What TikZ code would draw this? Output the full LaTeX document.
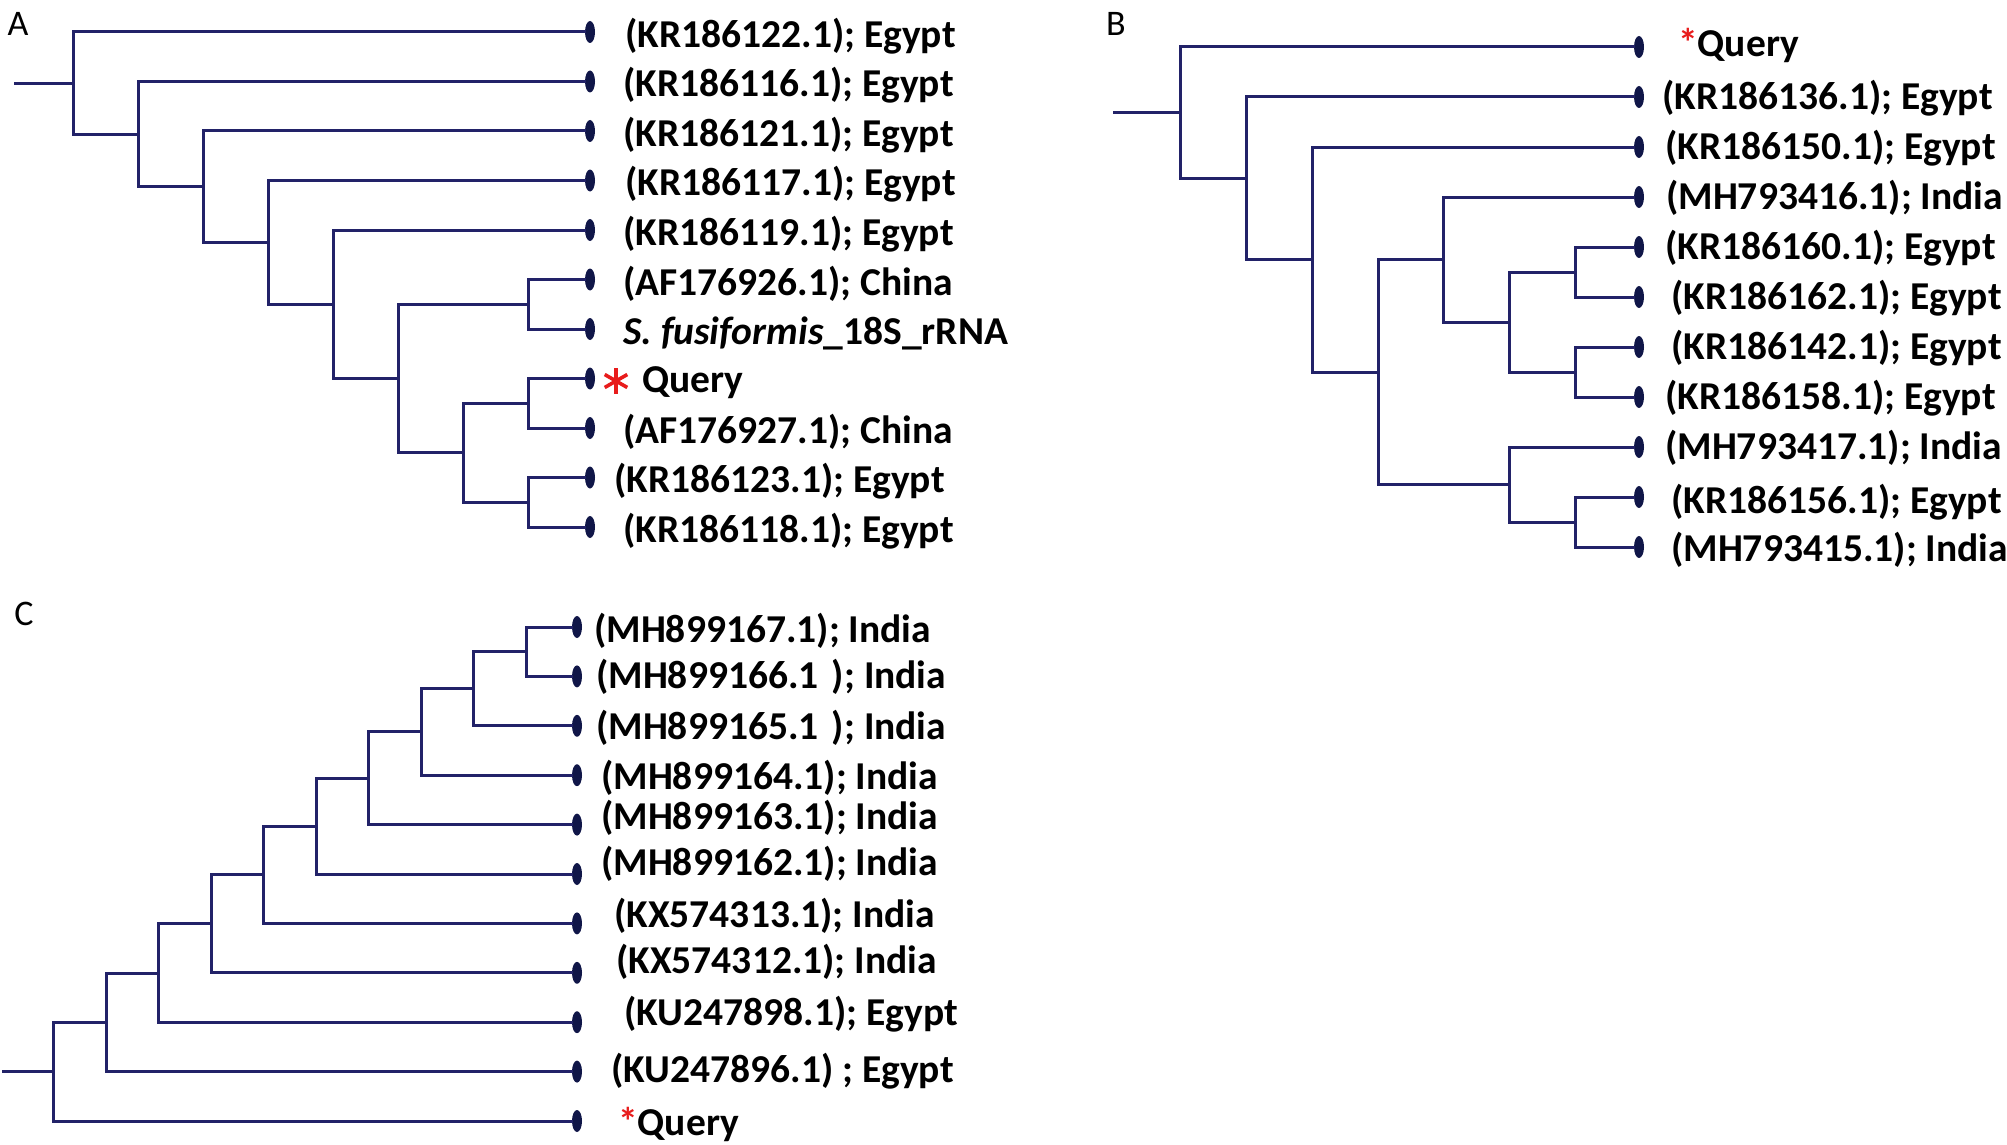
\documentclass[tikz,border=0pt]{standalone}
\usepackage{fontspec}
\setmainfont{Carlito}
\usetikzlibrary{shapes.geometric}
\definecolor{br}{RGB}{34,34,104}
\definecolor{dotc}{RGB}{16,22,72}
\definecolor{qred}{RGB}{232,28,28}
\begin{document}
\begin{tikzpicture}[x=1pt,y=-1pt,
  branch/.style={draw=br, line width=3pt, line cap=rect},
  leafdot/.style={ellipse, fill=dotc, inner sep=0pt, minimum width=10pt, minimum height=22pt},
  lab/.style={anchor=west, inner sep=0pt, font=\fontsize{39.5}{46}\selectfont\bfseries},
  panel/.style={inner sep=0pt, font=\fontsize{36}{42}\selectfont},
  astar/.style={draw=qred, line width=3.6pt}
]
\path[use as bounding box, fill=white] (0,0) rectangle (2007,1145);

%================ Panel A ================
\node[panel] (Alab) at (18,24) {A};
\coordinate (As) at (15,83.05);
\coordinate (Ar) at (73,83.05);
\coordinate (A2) at (138,134.1);
\coordinate (A3) at (203,186.69);
\coordinate (A4) at (268,242.38);
\coordinate (A5) at (333,304.25);
\coordinate (A6) at (398,378.5);
\coordinate (A7) at (463,452.75);
\coordinate (Ac) at (528,304.25);
\coordinate (Aq) at (528,403.25);
\coordinate (Ae) at (528,502.25);
\foreach \i/\y in {0/32,1/81.5,2/131,3/180.5,4/230,5/279.5,6/329,7/378.5,8/428,9/477.5,10/527}
  \node[leafdot] (Al\i) at (590,\y) {};

\node[lab] (At0) at (625,36) {(KR186122.1); Egypt};
\node[lab] (At1) at (623,85.5) {(KR186116.1); Egypt};
\node[lab] (At2) at (623,135) {(KR186121.1); Egypt};
\node[lab] (At3) at (625,184.5) {(KR186117.1); Egypt};
\node[lab] (At4) at (623,234) {(KR186119.1); Egypt};
\node[lab] (At5) at (623,283.5) {(AF176926.1); China};
\node[lab] (At6) at (623,333) {\textit{S. fusiformis}\_18S\_rRNA};
\node[lab] (At7) at (642,382.5) {Query};
\node[lab] (At8) at (623,432) {(AF176927.1); China};
\node[lab] (At9) at (614,481.5) {(KR186123.1); Egypt};
\node[lab] (At10) at (623,531) {(KR186118.1); Egypt};
% red asterisk before Query
\draw[astar] (616,368) -- (616,394);
\draw[astar] (604.7,374.5) -- (627.3,387.5);
\draw[astar] (604.7,387.5) -- (627.3,374.5);

\draw[branch] (As) -- (Ar);
\draw[branch] (Ar) |- (Al0);  \draw[branch] (Ar) |- (A2);
\draw[branch] (A2) |- (Al1);  \draw[branch] (A2) |- (A3);
\draw[branch] (A3) |- (Al2);  \draw[branch] (A3) |- (A4);
\draw[branch] (A4) |- (Al3);  \draw[branch] (A4) |- (A5);
\draw[branch] (A5) |- (Al4);  \draw[branch] (A5) |- (A6);
\draw[branch] (A6) |- (Ac);   \draw[branch] (A6) |- (A7);
\draw[branch] (Ac) |- (Al5);  \draw[branch] (Ac) |- (Al6);
\draw[branch] (A7) |- (Aq);   \draw[branch] (A7) |- (Ae);
\draw[branch] (Aq) |- (Al7);  \draw[branch] (Aq) |- (Al8);
\draw[branch] (Ae) |- (Al9);  \draw[branch] (Ae) |- (Al10);

%================ Panel B ================
\node[panel] (Blab) at (1116,24) {B};
\coordinate (Bs) at (1114,112.6);
\coordinate (Br) at (1180,112.6);
\coordinate (B2) at (1246,178.25);
\coordinate (B3) at (1312,259.5);
\coordinate (B4) at (1378,372);
\coordinate (B5) at (1443,259.5);
\coordinate (B6) at (1509,322);
\coordinate (B8) at (1509,484.5);
\coordinate (Ba) at (1575,272);
\coordinate (Bb) at (1575,372);
\coordinate (Bc) at (1575,522);
\foreach \i/\y in {0/47,1/97,2/147,3/197,4/247,5/297,6/347,7/397,8/447,9/497,10/547}
  \node[leafdot] (Bl\i) at (1639,\y) {};

\node[lab] (Bt0) at (1678,45) {{\color{qred}*}Query};
\node[lab] (Bt1) at (1662,98) {(KR186136.1); Egypt};
\node[lab] (Bt2) at (1665,148) {(KR186150.1); Egypt};
\node[lab] (Bt3) at (1666,198) {(MH793416.1); India};
\node[lab] (Bt4) at (1665,248) {(KR186160.1); Egypt};
\node[lab] (Bt5) at (1671,298) {(KR186162.1); Egypt};
\node[lab] (Bt6) at (1671,348) {(KR186142.1); Egypt};
\node[lab] (Bt7) at (1665,398) {(KR186158.1); Egypt};
\node[lab] (Bt8) at (1665,448) {(MH793417.1); India};
\node[lab] (Bt9) at (1671,502) {(KR186156.1); Egypt};
\node[lab] (Bt10) at (1671,550) {(MH793415.1); India};

\draw[branch] (Bs) -- (Br);
\draw[branch] (Br) |- (Bl0);  \draw[branch] (Br) |- (B2);
\draw[branch] (B2) |- (Bl1);  \draw[branch] (B2) |- (B3);
\draw[branch] (B3) |- (Bl2);  \draw[branch] (B3) |- (B4);
\draw[branch] (B4) |- (B5);   \draw[branch] (B4) |- (B8);
\draw[branch] (B5) |- (Bl3);  \draw[branch] (B5) |- (B6);
\draw[branch] (B6) |- (Ba);   \draw[branch] (B6) |- (Bb);
\draw[branch] (Ba) |- (Bl4);  \draw[branch] (Ba) |- (Bl5);
\draw[branch] (Bb) |- (Bl6);  \draw[branch] (Bb) |- (Bl7);
\draw[branch] (B8) |- (Bl8);  \draw[branch] (B8) |- (Bc);
\draw[branch] (Bc) |- (Bl9);  \draw[branch] (Bc) |- (Bl10);

%================ Panel C ================
\node[panel] (Clab) at (24,614) {C};
\coordinate (Cs) at (3,1071.65);
\coordinate (Cr) at (53,1071.65);
\coordinate (C2) at (106,1022.3);
\coordinate (C3) at (158,972.99);
\coordinate (C4) at (211,923.79);
\coordinate (C5) at (263,874.77);
\coordinate (C6) at (316,826.14);
\coordinate (C7) at (368,778.29);
\coordinate (C8) at (421,731.98);
\coordinate (C9) at (473,688.75);
\coordinate (C10) at (526,651.7);
\foreach \i/\y in {0/627,1/676.4,2/725.8,3/775.2,4/824.6,5/874,6/923.4,7/972.8,8/1022.2,9/1071.6,10/1121}
  \node[leafdot] (Cl\i) at (577,\y) {};

\node[lab] (Ct0) at (594,631) {(MH899167.1); India};
\node[lab] (Ct1) at (596,676.4) {(MH899166.1\,\,); India};
\node[lab] (Ct2) at (596,727.8) {(MH899165.1\,\,); India};
\node[lab] (Ct3) at (601,778.2) {(MH899164.1); India};
\node[lab] (Ct4) at (601,817.6) {(MH899163.1); India};
\node[lab] (Ct5) at (601,864) {(MH899162.1); India};
\node[lab] (Ct6) at (614,915.4) {(KX574313.1); India};
\node[lab] (Ct7) at (616,961.8) {(KX574312.1); India};
\node[lab] (Ct8) at (624,1014.2) {(KU247898.1); Egypt};
\node[lab] (Ct9) at (611,1071.6) {(KU247896.1) ; Egypt};
\node[lab] (Ct10) at (618,1124) {{\color{qred}*}Query};

\draw[branch] (Cs) -- (Cr);
\draw[branch] (Cr) |- (C2);   \draw[branch] (Cr) |- (Cl10);
\draw[branch] (C2) |- (C3);   \draw[branch] (C2) |- (Cl9);
\draw[branch] (C3) |- (C4);   \draw[branch] (C3) |- (Cl8);
\draw[branch] (C4) |- (C5);   \draw[branch] (C4) |- (Cl7);
\draw[branch] (C5) |- (C6);   \draw[branch] (C5) |- (Cl6);
\draw[branch] (C6) |- (C7);   \draw[branch] (C6) |- (Cl5);
\draw[branch] (C7) |- (C8);   \draw[branch] (C7) |- (Cl4);
\draw[branch] (C8) |- (C9);   \draw[branch] (C8) |- (Cl3);
\draw[branch] (C9) |- (C10);  \draw[branch] (C9) |- (Cl2);
\draw[branch] (C10) |- (Cl0); \draw[branch] (C10) |- (Cl1);
\end{tikzpicture}
\end{document}
